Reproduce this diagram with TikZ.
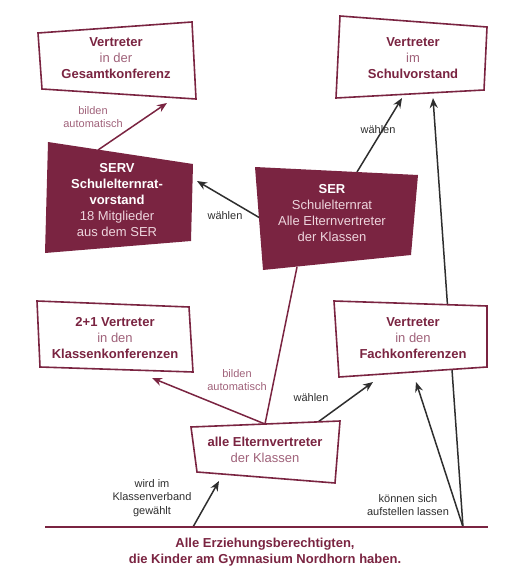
\documentclass[tikz,border=0pt]{standalone}
\usepackage{fontspec}
\setmainfont{Liberation Sans}
\usetikzlibrary{arrows.meta}
\definecolor{weinrot}{HTML}{7A2441}
\definecolor{rosa}{HTML}{A0627A}
\definecolor{hellrosa}{HTML}{EDD5DD}
\definecolor{dunkelgrau}{HTML}{2E2E2E}
\newcommand{\fett}[1]{{\color{weinrot}\bfseries #1}}
\newcommand{\weiss}[1]{{\color{white}\bfseries #1}}
\begin{document}
\begin{tikzpicture}[x=1pt,y=-1pt,
  rahmen/.style={draw=weinrot, line width=1.6pt, fill=white},
  flaeche/.style={fill=weinrot},
  inhalt/.style={align=center, text=rosa, inner sep=0pt, font=\fontsize{13}{15.8}\selectfont},
  innen/.style={inhalt, text=hellrosa},
  notiz/.style={align=center, inner sep=0pt, font=\fontsize{11}{13.5}\selectfont},
  pfeil/.style={line width=1.5pt, dunkelgrau, -{Stealth[length=10pt,width=8pt]}},
  pfeilrot/.style={pfeil, weinrot}]
  \useasboundingbox (0,0) rectangle (525,580);

  % Anschlusspunkte
  \coordinate (servOben) at (98,150);
  \coordinate (gesamtUnten) at (167,103);
  \coordinate (serLinks) at (260,218);
  \coordinate (servRechts) at (197,181);
  \coordinate (serOben) at (357,172);
  \coordinate (vorstandUnten) at (402,98);
  \coordinate (serUnten) at (297,267);
  \coordinate (elternOben) at (265,424);
  \coordinate (elternRechts) at (318,422);
  \coordinate (klassenUnten) at (152,378);
  \coordinate (fachUnten) at (373,382);
  \coordinate (fachUntenR) at (416,382);
  \coordinate (vorstandUntenR) at (433,98);
  \coordinate (elternUnten) at (219,481);
  \coordinate (basisLinks) at (45,527);
  \coordinate (basisRechts) at (488,527);
  \coordinate (basisA) at (193,527);
  \coordinate (basisB) at (463,527);

  % Verbindungen (unter den Kaesten)
  \draw[pfeilrot] (servOben) -- (gesamtUnten);
  \draw[pfeil] (serLinks) -- (servRechts);
  \draw[pfeil] (serOben) -- (vorstandUnten);
  \draw[weinrot, line width=1.5pt] (elternOben) -- (serUnten);
  \draw[pfeilrot] (elternOben) -- (klassenUnten);
  \draw[pfeil] (elternRechts) -- (fachUnten);
  \draw[pfeil] (basisA) -- (elternUnten);
  \draw[pfeil] (basisB) -- (fachUntenR);
  \draw[pfeil] (basisB) -- (vorstandUntenR);
  \draw[weinrot, line width=1.6pt] (basisLinks) -- (basisRechts);

  % Kaesten
  \draw[rahmen] (38,33) -- (192,22) -- (196,99) -- (42,89) -- cycle;
  \draw[rahmen] (340,16) -- (487,27) -- (484,90) -- (336,98) -- cycle;
  \fill[flaeche] (48,142) -- (193,164) -- (191,241) -- (45,253) -- cycle;
  \fill[flaeche] (255,167) -- (418,175) -- (411,255) -- (263,270) -- cycle;
  \draw[rahmen] (37,301) -- (189,307) -- (193,372) -- (40,367) -- cycle;
  \draw[rahmen] (334,301) -- (487,306) -- (487,367) -- (339,377) -- cycle;
  \draw[rahmen] (191,427) -- (340,421) -- (335,483) -- (197,472) -- cycle;

  % Texte
  \node[inhalt] (gesamt) at (116,58) {\fett{Vertreter}\\in der\\\fett{Gesamtkonferenz}};
  \node[inhalt] (vorstand) at (413,58) {\fett{Vertreter}\\im\\\fett{Schulvorstand}};
  \node[innen] (serv) at (117,200) {\weiss{SERV}\\\weiss{Schulelternrat-}\\\weiss{vorstand}\\18 Mitglieder\\aus dem SER};
  \node[innen] (ser) at (332,213) {\weiss{SER}\\Schulelternrat\\Alle Elternvertreter\\der Klassen};
  \node[inhalt] (klassen) at (115,338) {\fett{2+1 Vertreter}\\in den\\\fett{Klassenkonferenzen}};
  \node[inhalt] (fach) at (413,338) {\fett{Vertreter}\\in den\\\fett{Fachkonferenzen}};
  \node[inhalt] (eltern) at (265,450) {\fett{alle Elternvertreter}\\der Klassen};
  \node[inhalt, text=weinrot, font=\fontsize{13}{16.5}\selectfont\bfseries] (basis) at (265,552)
    {Alle Erziehungsberechtigten,\\die Kinder am Gymnasium Nordhorn haben.};

  % Beschriftungen
  \node[notiz, text=rosa] (bildenA) at (93,117) {bilden\\automatisch};
  \node[notiz, text=dunkelgrau] (waehlenA) at (225,216) {wählen};
  \node[notiz, text=dunkelgrau] (waehlenB) at (378,130) {wählen};
  \node[notiz, text=rosa] (bildenB) at (237,380) {bilden\\automatisch};
  \node[notiz, text=dunkelgrau] (waehlenC) at (311,398) {wählen};
  \node[notiz, text=dunkelgrau] (gewaehlt) at (152,498) {wird im\\Klassenverband\\gewählt};
  \node[notiz, text=dunkelgrau] (aufstellen) at (408,505) {können sich\\aufstellen lassen};
\end{tikzpicture}
\end{document}
